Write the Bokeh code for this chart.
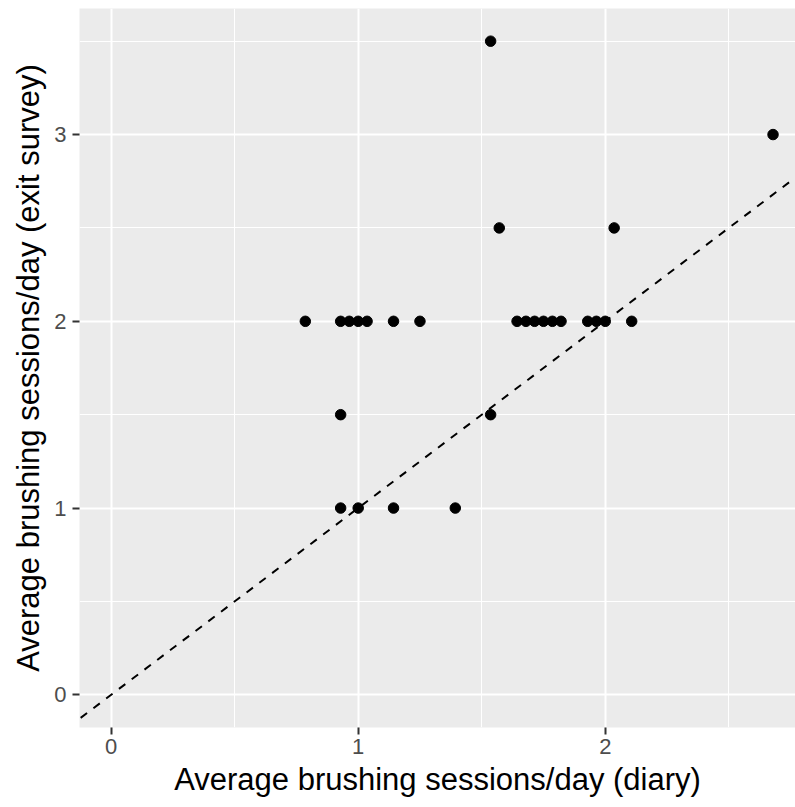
from bokeh.plotting import figure
from bokeh.models import Range1d, FixedTicker, Slope, ColumnDataSource
from bokeh.embed import file_html
from bokeh.resources import INLINE

# Data
diary = [0.786, 0.929, 0.964, 1.0, 1.036, 1.143, 1.25,
         1.643, 1.679, 1.714, 1.75, 1.786, 1.821,
         1.929, 1.964, 2.0, 2.107,
         0.929, 1.536,
         0.929, 1.0, 1.143, 1.393,
         1.571, 2.036,
         1.536,
         2.679]
exit_survey = [2, 2, 2, 2, 2, 2, 2,
               2, 2, 2, 2, 2, 2,
               2, 2, 2, 2,
               1.5, 1.5,
               1, 1, 1, 1,
               2.5, 2.5,
               3.5,
               3]
x_ticks = [0, 1, 2]
x_minor = [0.5, 1.5, 2.5]
y_ticks = [0, 1, 2, 3]
y_minor = [0.5, 1.5, 2.5, 3.5]
x_title = "Average brushing sessions/day (diary)"
y_title = "Average brushing sessions/day (exit survey)"

FONT = "Liberation Sans"

p = figure(width=795, height=807, output_backend="svg", toolbar_location=None,
           x_range=Range1d(-0.128, 2.770), y_range=Range1d(-0.175, 3.675),
           min_border_left=79, min_border_right=0, min_border_top=8, min_border_bottom=80,
           background_fill_color="#EBEBEB", border_fill_color="white")
p.outline_line_color = None

# grids
p.xgrid.ticker = FixedTicker(ticks=x_ticks, minor_ticks=x_minor)
p.ygrid.ticker = FixedTicker(ticks=y_ticks, minor_ticks=y_minor)
for g in (p.xgrid, p.ygrid):
    g.grid_line_color = "white"
    g.grid_line_width = 2
    g.minor_grid_line_color = "white"
    g.minor_grid_line_width = 1

# axes
p.xaxis.ticker = FixedTicker(ticks=x_ticks)
p.yaxis.ticker = FixedTicker(ticks=y_ticks)
p.xaxis.axis_label = x_title
p.yaxis.axis_label = y_title
for ax in (p.xaxis, p.yaxis):
    ax.axis_line_color = None
    ax.minor_tick_line_color = None
    ax.major_tick_in = 0
    ax.major_tick_out = 7
    ax.major_tick_line_color = "#333333"
    ax.major_tick_line_width = 2
    ax.major_label_text_font = FONT
    ax.major_label_text_font_size = "22px"
    ax.major_label_text_color = "#4D4D4D"
    ax.axis_label_text_font = FONT
    ax.axis_label_text_font_size = "31px"
    ax.axis_label_text_font_style = "normal"
    ax.axis_label_text_color = "black"
p.xaxis.major_label_standoff = 4
p.yaxis.major_label_standoff = 6
p.xaxis.axis_label_standoff = 5
p.yaxis.axis_label_standoff = 5

src = ColumnDataSource(dict(x=diary, y=exit_survey))

p.add_layout(Slope(gradient=1, y_intercept=0, line_color="black",
                   line_width=2, line_dash="8 8"))
p.scatter("x", "y", source=src, size=10.5, color="black")

open("out.html", "w").write(file_html(p, INLINE))
